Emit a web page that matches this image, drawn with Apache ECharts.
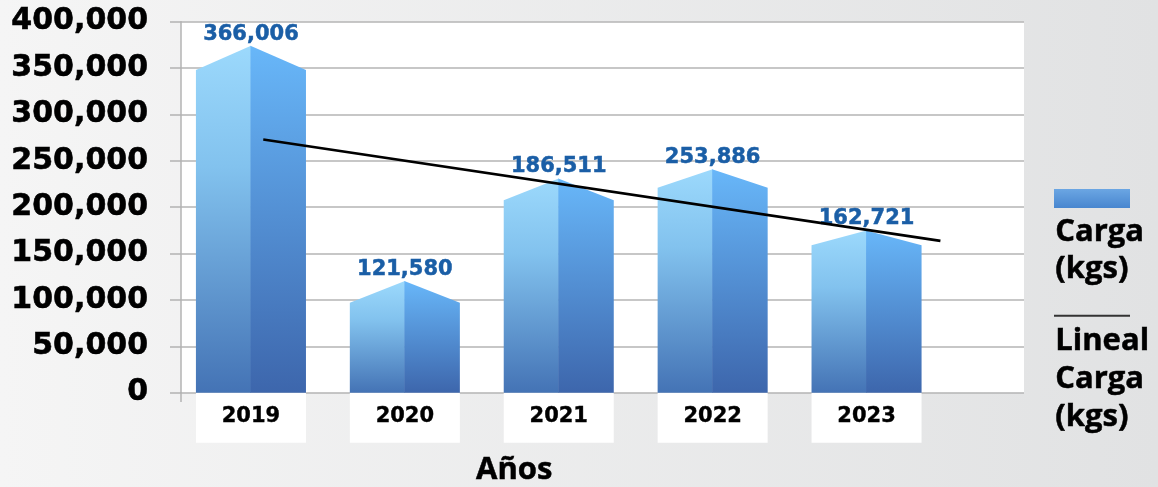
<!DOCTYPE html>
<html>
<head>
<meta charset="utf-8">
<script src="https://cdn.jsdelivr.net/npm/echarts@6/dist/echarts.min.js"></script>
<style>
html,body{margin:0;padding:0;}
#chart{width:1158px;height:487px;}
</style>
</head>
<body>
<div id="chart"></div>
<script>
// ---- data ----
const years = ['2019', '2020', '2021', '2022', '2023'];
const cargaKgs = [366006, 121580, 186511, 253886, 162721];      // printed values
const barShoulder = [348000, 97000, 207500, 221000, 159000];    // drawn bar shoulder height
const barPeak = [374000, 120500, 231000, 241000, 175000];       // drawn bar peak height
const trendX = [1.08, 5.48];                                     // trend line ends (category units, 1 = 2019)
const trendY = [273000, 163700];
const yMin = 0, yMax = 400000, yStep = 50000;

const G = echarts.graphic;
const fmt = v => v.toLocaleString('en-US');

const chart = echarts.init(document.getElementById('chart'));

function renderBar(params, api) {
  const i = api.value(0);
  const base = api.coord([i, 0]);
  const sh = api.coord([i, api.value(1)]);
  const pk = api.coord([i, api.value(2)]);
  const band = api.size([1, 0])[0];
  const w = band * 0.715;
  const cx = base[0], l = cx - w / 2, r = cx + w / 2;
  return {
    type: 'group',
    children: [
      {
        type: 'polygon',
        shape: { points: [[l, base[1]], [l, sh[1]], [cx, pk[1]], [cx, base[1]]] },
        style: { fill: new G.LinearGradient(0, 0, 0, 1, [
          { offset: 0, color: '#9cd9fc' }, { offset: 0.35, color: '#82c2ee' }, { offset: 1, color: '#4473b5' }]) }
      },
      {
        type: 'polygon',
        shape: { points: [[cx - 0.5, base[1]], [cx - 0.5, pk[1]], [r, sh[1]], [r, base[1]]] },
        style: { fill: new G.LinearGradient(0, 0, 0, 1, [
          { offset: 0, color: '#68b7f9' }, { offset: 1, color: '#3d66ac' }]) }
      },
      {
        type: 'text',
        x: cx, y: pk[1] - 1,
        style: {
          text: fmt(api.value(3)),
          align: 'center', verticalAlign: 'bottom',
          textAlign: 'center', textVerticalAlign: 'bottom',
          font: 'bold 21px "DejaVu Sans"',
          fill: '#1a5ea6', stroke: '#1a5ea6', lineWidth: 0.5
        }
      }
    ]
  };
}

const option = {
  animation: false,
  backgroundColor: new G.LinearGradient(0, 0, 1, 0, [
    { offset: 0, color: '#f5f5f5' }, { offset: 1, color: '#e1e2e3' }]),
  title: {
    text: 'Años', left: 471, top: 450,
    textStyle: { fontFamily: 'Open Sans', fontWeight: 'bold', fontSize: 31, color: '#000',
      textBorderColor: '#000', textBorderWidth: 0.5 }
  },
  grid: [
    { left: 174, right: 214.5, top: 21.7, bottom: 94.3, containLabel: false },
    { left: 181, right: 134, top: 21.7, bottom: 94.3, containLabel: false,
      show: true, backgroundColor: '#ffffff', borderWidth: 0 }
  ],
  xAxis: [
    {
      type: 'category', gridIndex: 0, data: years,
      axisLine: { show: false }, axisTick: { show: false },
      axisLabel: {
        interval: 0, margin: 0, color: '#000',
        fontFamily: 'DejaVu Sans', fontWeight: 'bold', fontSize: 21,
        textBorderColor: '#000', textBorderWidth: 0.4,
        backgroundColor: '#ffffff', width: 110, height: 50, lineHeight: 48,
        align: 'center', verticalAlign: 'top'
      }
    },
    { type: 'value', gridIndex: 0, min: 0.5, max: 5.5, show: false },
    { type: 'value', gridIndex: 1, min: 0, max: 1, show: false }
  ],
  yAxis: [
    { type: 'value', gridIndex: 0, min: yMin, max: yMax, interval: yStep, show: false },
    {
      type: 'value', gridIndex: 1, min: yMin, max: yMax, interval: yStep,
      axisLine: { show: true, lineStyle: { color: '#b3b3b3', width: 1.5 } },
      axisTick: { show: true, length: 11, lineStyle: { color: '#b3b3b3', width: 1.5 } },
      splitLine: { show: true, lineStyle: { color: '#b5b5b5', width: 1.5 } },
      axisLabel: {
        margin: 33, color: '#000', fontFamily: 'DejaVu Sans', fontWeight: 'bold', fontSize: 30,
        textBorderColor: '#000', textBorderWidth: 0.6,
        formatter: v => fmt(v)
      }
    }
  ],
  series: [
    {
      type: 'custom', name: 'Carga (kgs)', xAxisIndex: 0, yAxisIndex: 0,
      renderItem: renderBar, clip: false,
      encode: { x: 0, y: [1, 2] },
      data: years.map((y, i) => [i, barShoulder[i], barPeak[i], cargaKgs[i]])
    },
    {
      type: 'line', name: 'Lineal Carga (kgs)', xAxisIndex: 1, yAxisIndex: 0,
      symbol: 'none', z: 5,
      lineStyle: { color: '#000', width: 2.6 },
      data: trendX.map((x, i) => [x, trendY[i]])
    }
  ],
  graphic: [
    {
      type: 'line', shape: { x1: 181, y1: 392, x2: 181, y2: 402 },
      style: { stroke: '#b3b3b3', lineWidth: 1.5 }
    },
    {
      type: 'rect', left: 1054, top: 189, shape: { width: 76, height: 19 },
      style: { fill: new G.LinearGradient(0, 0, 0, 1, [
        { offset: 0, color: '#6ba6e3' }, { offset: 1, color: '#4886cf' }]) }
    },
    {
      type: 'text', left: 1055, top: 214,
      style: { text: 'Carga\n(kgs)', font: 'bold 31px "Open Sans"', lineHeight: 37, fill: '#000',
        stroke: '#000', lineWidth: 0.5 }
    },
    {
      type: 'line', shape: { x1: 1054, y1: 315.7, x2: 1130, y2: 315.7 },
      style: { stroke: '#333', lineWidth: 2 }
    },
    {
      type: 'text', left: 1055, top: 322,
      style: { text: 'Lineal\nCarga\n(kgs)', font: 'bold 31px "Open Sans"', lineHeight: 38, fill: '#000',
        stroke: '#000', lineWidth: 0.5 }
    }
  ]
};
chart.setOption(option);
</script>
</body>
</html>
